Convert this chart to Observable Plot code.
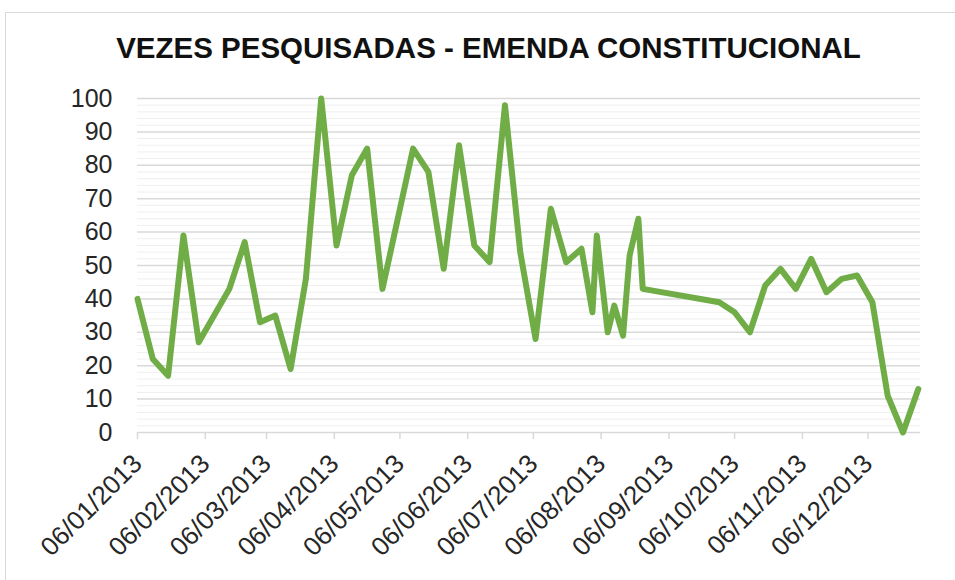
<!DOCTYPE html>
<html>
<head>
<meta charset="utf-8">
<script src="https://cdn.jsdelivr.net/npm/d3@7"></script>
<script src="https://cdn.jsdelivr.net/npm/@observablehq/plot@0.6"></script>
<style>
  html, body { margin: 0; padding: 0; background: #fff; overflow: hidden; }
  #wrap { position: relative; width: 955px; height: 580px; overflow: hidden; font-family: "Liberation Sans", Arial, sans-serif; }
  #frame { position: absolute; left: 5px; top: 12px; width: 1100px; height: 800px; border: 1.5px solid #d9d9d9; box-sizing: border-box; }
  #title { position: absolute; left: 0; top: 34px; width: 977px; text-align: center; font-weight: bold; font-size: 29.5px; line-height: 28px; color: #111; white-space: nowrap; }
  #chart { position: absolute; left: 0; top: 0; }
</style>
</head>
<body>
<div id="wrap">
  <div id="frame"></div>
  <div id="title">VEZES PESQUISADAS - EMENDA CONSTITUCIONAL</div>
  <div id="chart"></div>
</div>
<script>
const titleText = "VEZES PESQUISADAS - EMENDA CONSTITUCIONAL";
const dates = [
  "2013-01-06","2013-01-13","2013-01-20","2013-01-27","2013-02-03","2013-02-17","2013-02-24",
  "2013-03-03","2013-03-10","2013-03-17","2013-03-24","2013-03-31","2013-04-07","2013-04-14",
  "2013-04-21","2013-04-28","2013-05-12","2013-05-19","2013-05-26","2013-06-02","2013-06-09",
  "2013-06-16","2013-06-23","2013-06-30","2013-07-07","2013-07-14","2013-07-21","2013-07-28",
  "2013-08-02","2013-08-04","2013-08-09","2013-08-12","2013-08-16","2013-08-19","2013-08-23",
  "2013-08-25","2013-09-29","2013-10-06","2013-10-13","2013-10-20","2013-10-27","2013-11-03",
  "2013-11-10","2013-11-17","2013-11-24","2013-12-01","2013-12-08","2013-12-15","2013-12-22",
  "2013-12-29"
];
const values = [
  40,22,17,59,27,43,57,
  33,35,19,46,100,56,77,
  85,43,85,78,49,86,56,
  51,98,54,28,67,51,55,
  36,59,30,38,29,53,64,
  43,39,36,30,44,49,43,
  52,42,46,47,39,11,0,
  13
];
const xTickDates = [
  "2013-01-06","2013-02-06","2013-03-06","2013-04-06","2013-05-06","2013-06-06",
  "2013-07-06","2013-08-06","2013-09-06","2013-10-06","2013-11-06","2013-12-06"
];
const xDomain = ["2013-01-06", "2013-12-30"];
const yMajorTicks = [0,10,20,30,40,50,60,70,80,90,100];
const yMinorTicks = d3.range(0, 101, 2).filter(v => v % 10 !== 0);

const data = dates.map((d, i) => ({date: new Date(d + "T00:00:00Z"), value: values[i]}));
const fmt = d3.utcFormat("%d/%m/%Y");

const plot = Plot.plot({
  width: 955,
  height: 580,
  marginTop: 98,
  marginBottom: 148,
  marginLeft: 137,
  marginRight: 35,
  style: { fontFamily: "'Liberation Sans', Arial, sans-serif", background: "transparent", overflow: "visible" },
  x: { type: "utc", domain: xDomain.map(d => new Date(d + "T00:00:00Z")) },
  y: { domain: [0, 100] },
  marks: [
    Plot.ruleY(yMinorTicks, { stroke: "#efefef", strokeWidth: 1 }),
    Plot.ruleY(yMajorTicks, { stroke: "#d9d9d9", strokeWidth: 1.5 }),
    Plot.axisY({ ticks: yMajorTicks, tickSize: 0, tickPadding: 25, fontSize: 25, fill: "#262626", label: null }),
    Plot.axisX({
      ticks: xTickDates.map(d => new Date(d + "T00:00:00Z")),
      tickFormat: fmt,
      tickRotate: -45,
      tickSize: 7,
      tickPadding: 20,
      fontSize: 26,
      stroke: "#d9d9d9",
      strokeWidth: 1.5,
      fill: "#262626",
      label: null
    }),
    Plot.line(data, { x: "date", y: "value", stroke: "#70ad47", strokeWidth: 6, strokeLinejoin: "round", strokeLinecap: "round" })
  ]
});
document.getElementById("chart").appendChild(plot);
</script>
</body>
</html>
